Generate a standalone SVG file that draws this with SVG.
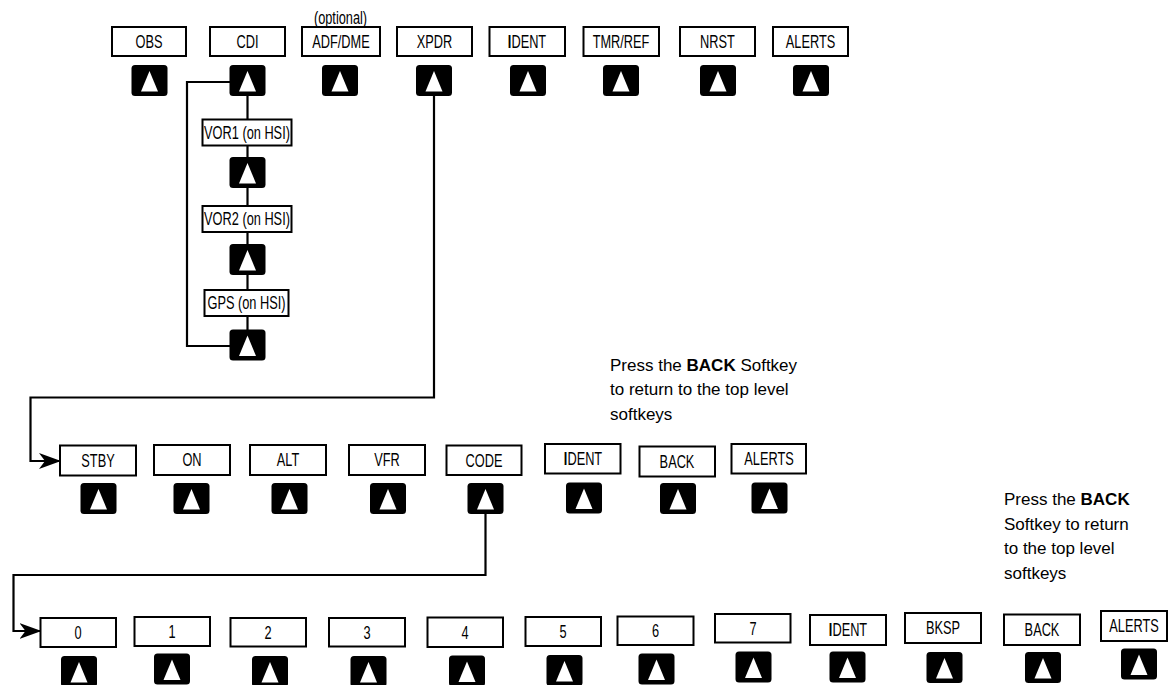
<svg xmlns="http://www.w3.org/2000/svg" xmlns:xlink="http://www.w3.org/1999/xlink" width="1170" height="685" viewBox="0 0 1170 685">
<style>
.box{fill:#fff;stroke:#000;stroke-width:2}
.lbl{font-family:"Liberation Sans",Arial,sans-serif;font-size:17.5px;text-anchor:middle;fill:#000}
.note{font-family:"Liberation Sans",Arial,sans-serif;font-size:17px;fill:#000}
.wire{fill:none;stroke:#000;stroke-width:2.2}
.b{font-weight:bold}
</style>
<defs>
<g id="key"><rect x="0" y="0" width="36" height="31" rx="3.5" fill="#000"/><polygon points="18,6 9.5,26.5 26.5,26.5" fill="#fff"/></g>
<marker id="arr" markerUnits="userSpaceOnUse" markerWidth="22" markerHeight="16" refX="21" refY="8" orient="auto" viewBox="0 0 22 16"><path d="M0,0 L22,8 L0,16 L6,8 Z" fill="#000"/></marker>
</defs>
<rect width="1170" height="685" fill="#fff"/>
<g id="connectors">
<path class="wire" d="M247.5,96 V330"/>
<path class="wire" d="M230,82 H187 V346 H231"/>
<path class="wire" d="M434,96 V397.5 H30.5 V461 H60" marker-end="url(#arr)"/>
<path class="wire" d="M485.5,514 V575 H13.5 V631 H40.5" marker-end="url(#arr)"/>
</g>
<g id="top-row">
<g id="top-obs"><rect class="box" x="112" y="27" width="74" height="29"/><text class="lbl" transform="translate(149,47.8) scale(0.73,1)">OBS</text><use xlink:href="#key" x="131.5" y="65"/></g>
<g id="top-cdi"><rect class="box" x="210" y="27" width="75" height="29"/><text class="lbl" transform="translate(247.5,47.8) scale(0.73,1)">CDI</text><use xlink:href="#key" x="229.5" y="65"/></g>
<g id="top-adfdme"><text class="lbl" transform="translate(340.5,23.5) scale(0.73,1)">(optional)</text><rect class="box" x="302" y="27" width="78" height="29"/><text class="lbl" transform="translate(341,47.8) scale(0.73,1)">ADF/DME</text><use xlink:href="#key" x="322" y="65"/></g>
<g id="top-xpdr"><rect class="box" x="397" y="27" width="75" height="29"/><text class="lbl" transform="translate(434.5,47.8) scale(0.73,1)">XPDR</text><use xlink:href="#key" x="416" y="65"/></g>
<g id="top-ident"><rect class="box" x="489.5" y="27" width="75.5" height="29"/><text class="lbl" transform="translate(527,47.8) scale(0.73,1)"><tspan class="b">I</tspan>DENT</text><use xlink:href="#key" x="510" y="65"/></g>
<g id="top-tmrref"><rect class="box" x="583.5" y="27" width="75.5" height="29"/><text class="lbl" transform="translate(621,47.8) scale(0.73,1)">TMR/REF</text><use xlink:href="#key" x="603" y="65"/></g>
<g id="top-nrst"><rect class="box" x="680" y="27" width="75" height="29"/><text class="lbl" transform="translate(717.5,47.8) scale(0.73,1)">NRST</text><use xlink:href="#key" x="700" y="65"/></g>
<g id="top-alerts"><rect class="box" x="773" y="27" width="75" height="29"/><text class="lbl" transform="translate(810.5,47.8) scale(0.73,1)">ALERTS</text><use xlink:href="#key" x="793" y="65"/></g>
</g>
<g id="cdi-chain">
<g id="cdi-vor1"><rect class="box" x="202.5" y="119.5" width="89" height="26"/><text class="lbl" transform="translate(247,138.8) scale(0.73,1)">VOR1 (on HSI)</text><use xlink:href="#key" x="229.5" y="157"/></g>
<g id="cdi-vor2"><rect class="box" x="202.5" y="206" width="89" height="26"/><text class="lbl" transform="translate(247,225.3) scale(0.73,1)">VOR2 (on HSI)</text><use xlink:href="#key" x="229.5" y="244"/></g>
<g id="cdi-gps"><rect class="box" x="204.5" y="290" width="84" height="26"/><text class="lbl" transform="translate(246.5,309.3) scale(0.73,1)">GPS (on HSI)</text><use xlink:href="#key" x="229.5" y="329.5"/></g>
</g>
<g id="xpdr-row">
<g id="x-stby"><rect class="box" x="60" y="445.5" width="76" height="30"/><text class="lbl" transform="translate(98,466.8) scale(0.73,1)">STBY</text><use xlink:href="#key" x="80.5" y="483"/></g>
<g id="x-on"><rect class="box" x="154" y="445" width="76" height="30"/><text class="lbl" transform="translate(192,466.3) scale(0.73,1)">ON</text><use xlink:href="#key" x="173.5" y="483"/></g>
<g id="x-alt"><rect class="box" x="250" y="445" width="76" height="30"/><text class="lbl" transform="translate(288,466.3) scale(0.73,1)">ALT</text><use xlink:href="#key" x="271.5" y="483"/></g>
<g id="x-vfr"><rect class="box" x="349" y="445" width="76" height="30"/><text class="lbl" transform="translate(387,466.3) scale(0.73,1)">VFR</text><use xlink:href="#key" x="370" y="483"/></g>
<g id="x-code"><rect class="box" x="446.5" y="445.5" width="75" height="29.5"/><text class="lbl" transform="translate(484,466.6) scale(0.73,1)">CODE</text><use xlink:href="#key" x="467.5" y="483"/></g>
<g id="x-ident"><rect class="box" x="545" y="444" width="75.5" height="29.5"/><text class="lbl" transform="translate(583,465.1) scale(0.73,1)"><tspan class="b">I</tspan>DENT</text><use xlink:href="#key" x="566" y="482.5"/></g>
<g id="x-back"><rect class="box" x="639.5" y="446.5" width="75.5" height="30"/><text class="lbl" transform="translate(677,467.8) scale(0.73,1)">BACK</text><use xlink:href="#key" x="660" y="483"/></g>
<g id="x-alerts"><rect class="box" x="731.5" y="444" width="74.5" height="29.5"/><text class="lbl" transform="translate(769,465.1) scale(0.73,1)">ALERTS</text><use xlink:href="#key" x="751.5" y="482.5"/></g>
</g>
<g id="note-mid"><text class="note"><tspan x="610" y="370.5">Press the <tspan class="b">BACK</tspan> Softkey</tspan><tspan x="610" y="395">to return to the top level</tspan><tspan x="610" y="419.5">softkeys</tspan></text></g>
<g id="code-row">
<g id="c-0"><rect class="box" x="40.5" y="618" width="75.5" height="29"/><text class="lbl" transform="translate(78,638.8) scale(0.73,1)">0</text><use xlink:href="#key" x="61" y="656"/></g>
<g id="c-1"><rect class="box" x="134.5" y="617" width="75.5" height="29"/><text class="lbl" transform="translate(172,637.8) scale(0.73,1)">1</text><use xlink:href="#key" x="154" y="653.5"/></g>
<g id="c-2"><rect class="box" x="230.5" y="618" width="75.5" height="28.5"/><text class="lbl" transform="translate(268,638.6) scale(0.73,1)">2</text><use xlink:href="#key" x="252" y="656"/></g>
<g id="c-3"><rect class="box" x="329" y="618" width="76" height="28.5"/><text class="lbl" transform="translate(367,638.6) scale(0.73,1)">3</text><use xlink:href="#key" x="350.5" y="656"/></g>
<g id="c-4"><rect class="box" x="427.5" y="617.5" width="75.5" height="29.5"/><text class="lbl" transform="translate(465,638.6) scale(0.73,1)">4</text><use xlink:href="#key" x="449" y="655.5"/></g>
<g id="c-5"><rect class="box" x="525.5" y="617" width="75.5" height="29"/><text class="lbl" transform="translate(563,637.8) scale(0.73,1)">5</text><use xlink:href="#key" x="546.5" y="655"/></g>
<g id="c-6"><rect class="box" x="617.5" y="616.5" width="76" height="28.5"/><text class="lbl" transform="translate(655.5,637.1) scale(0.73,1)">6</text><use xlink:href="#key" x="638.5" y="653.5"/></g>
<g id="c-7"><rect class="box" x="715" y="614" width="75.5" height="28.5"/><text class="lbl" transform="translate(753,634.6) scale(0.73,1)">7</text><use xlink:href="#key" x="735.5" y="651.5"/></g>
<g id="c-ident"><rect class="box" x="810" y="615" width="76" height="30"/><text class="lbl" transform="translate(848,636.3) scale(0.73,1)"><tspan class="b">I</tspan>DENT</text><use xlink:href="#key" x="829.5" y="651.5"/></g>
<g id="c-bksp"><rect class="box" x="905" y="613" width="76" height="30"/><text class="lbl" transform="translate(943,634.3) scale(0.73,1)">BKSP</text><use xlink:href="#key" x="926.5" y="652"/></g>
<g id="c-back"><rect class="box" x="1004" y="614.5" width="76" height="30.5"/><text class="lbl" transform="translate(1042,636.1) scale(0.73,1)">BACK</text><use xlink:href="#key" x="1025" y="652"/></g>
<g id="c-alerts"><rect class="box" x="1101" y="611" width="66" height="30"/><text class="lbl" transform="translate(1134,632.3) scale(0.73,1)">ALERTS</text><use xlink:href="#key" x="1121" y="648.5"/></g>
</g>
<g id="note-bottom"><text class="note"><tspan x="1004" y="505">Press the <tspan class="b">BACK</tspan></tspan><tspan x="1004" y="529.5">Softkey to return</tspan><tspan x="1004" y="554">to the top level</tspan><tspan x="1004" y="578.5">softkeys</tspan></text></g>
</svg>
